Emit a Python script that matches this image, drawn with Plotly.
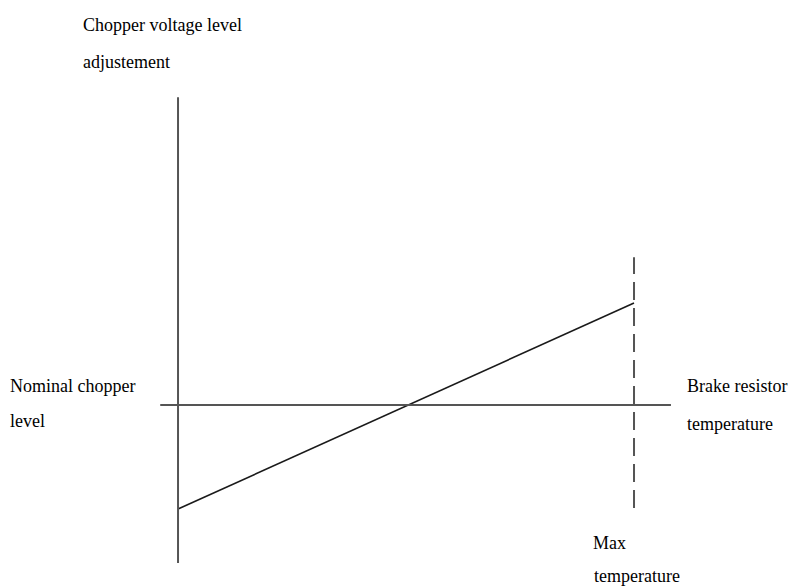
import plotly.graph_objects as go

# Brake resistor temperature (0 = start, 1 = max temperature)
temperature = [0.0, 1.0]
# Chopper voltage level adjustment relative to the nominal level
adjustment = [-1.0, 0.98]

max_temperature = 1.0

W, H = 790, 587
# axis ranges chosen so the origin sits at the crossing of the two axis lines
x_range = [-0.3904, 1.3421]
y_range = [-1.75, 3.894]

fig = go.Figure()

# adjustment ramp
fig.add_trace(go.Scatter(
    x=temperature, y=adjustment, mode="lines",
    line=dict(color="#1a1a1a", width=1.6), hoverinfo="skip", showlegend=False,
))

axis_color = "#555555"
# vertical (voltage adjustment) axis
fig.add_shape(type="line", x0=0, x1=0, y0=-1.52, y1=2.96,
              line=dict(color=axis_color, width=2))
# horizontal (temperature) axis at nominal chopper level
fig.add_shape(type="line", x0=-0.039, x1=1.081, y0=0, y1=0,
              line=dict(color=axis_color, width=2))
# max temperature limit
fig.add_shape(type="line", x0=max_temperature, x1=max_temperature, y0=-0.99, y1=1.42,
              line=dict(color=axis_color, width=2, dash="18px,8px"))

font = dict(family="Liberation Serif, Times New Roman, serif", size=18, color="#000000")


def label(text, x, y):
    fig.add_annotation(x=x, y=y, xref="x", yref="y", text=text, showarrow=False,
                       xanchor="left", yanchor="middle", font=font)


label("Chopper voltage level", -0.212, (405 - 25) / 104)
label("adjustement", -0.212, (405 - 62) / 104)
label("Nominal chopper", -0.372, (405 - 386) / 104)
label("level", -0.372, (405 - 421) / 104)
label("Brake resistor", 1.111, (405 - 386) / 104)
label("temperature", 1.111, (405 - 424) / 104)
label("Max", 0.906, (405 - 543) / 104)
label("temperature", 0.908, (405 - 576) / 104)

fig.update_layout(
    width=W, height=H,
    margin=dict(l=0, r=0, t=0, b=0),
    paper_bgcolor="white", plot_bgcolor="white",
    xaxis=dict(range=x_range, visible=False, fixedrange=True),
    yaxis=dict(range=y_range, visible=False, fixedrange=True),
    showlegend=False,
)

fig.write_html("out.html")
